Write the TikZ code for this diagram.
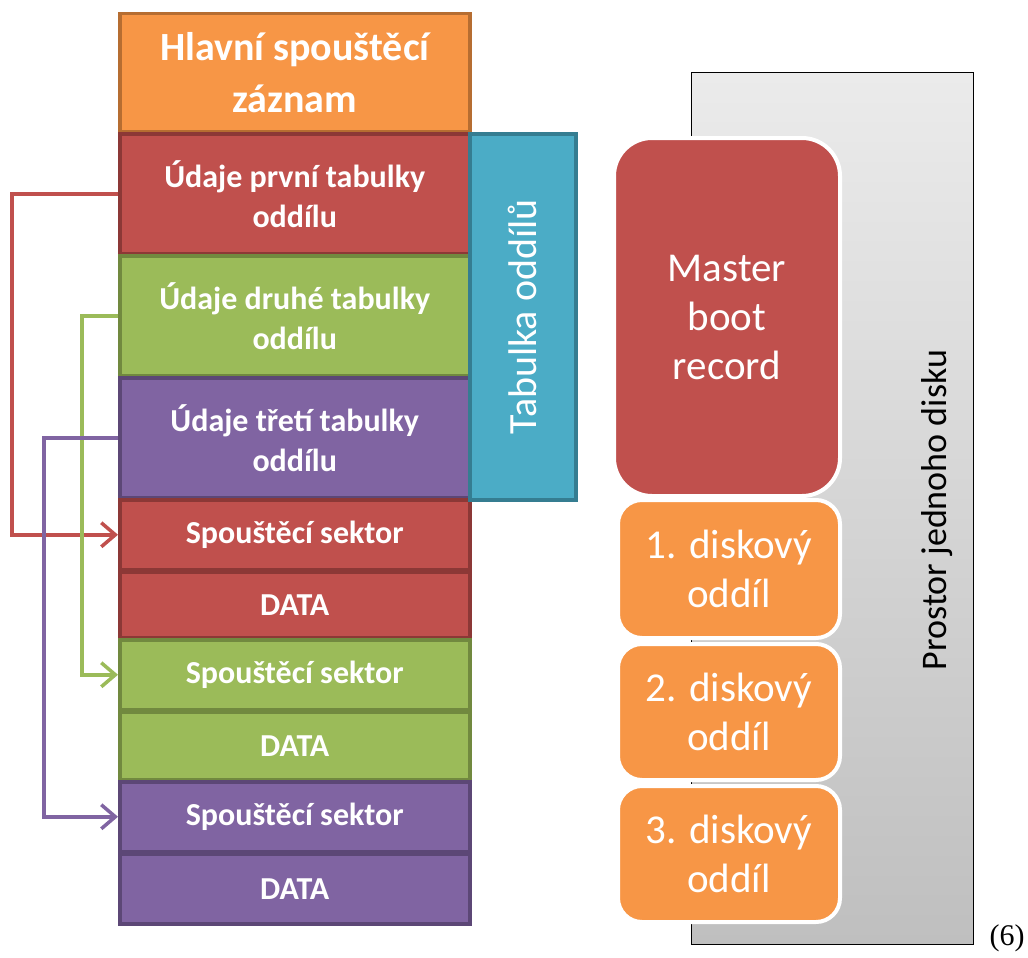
\documentclass[tikz,border=0pt]{standalone}
\usepackage{fontspec}
\setmainfont{Carlito}
\newfontfamily\capfont{Liberation Serif}
\usetikzlibrary{arrows.meta}
\definecolor{cOrange}{HTML}{F79646}
\definecolor{cOrangeD}{HTML}{B66D31}
\definecolor{cRed}{HTML}{C0504D}
\definecolor{cRedD}{HTML}{8C3836}
\definecolor{cGreen}{HTML}{9BBB59}
\definecolor{cGreenD}{HTML}{71893F}
\definecolor{cPurple}{HTML}{8064A2}
\definecolor{cPurpleD}{HTML}{5C4776}
\definecolor{cBlue}{HTML}{4BACC6}
\definecolor{cBlueD}{HTML}{357D91}
\definecolor{gTop}{HTML}{EBEBEB}
\definecolor{gBot}{HTML}{BFBFBF}
\tikzset{
  cell/.style={anchor=north west, inner sep=0pt, line width=3.5pt, minimum width=350pt,
    text=white, align=center, font=\bfseries\fontsize{32}{40}\selectfont},
  redcell/.style={cell, fill=cRed, draw=cRedD},
  greencell/.style={cell, fill=cGreen, draw=cGreenD},
  purplecell/.style={cell, fill=cPurple, draw=cPurpleD},
  part/.style={anchor=north west, inner sep=0pt, draw=white, line width=4pt,
    text=white, align=center, font=\fontsize{41}{49}\selectfont},
  link/.style={line width=3.5pt, -{Straight Barb[length=14pt,width=24pt]}},
}
\begin{document}
\begin{tikzpicture}[x=1pt,y=-1pt]
\useasboundingbox[fill=white] (0,0) rectangle (1028,958);

% left stack
\node[cell, fill=cOrange, draw=cOrangeD, minimum height=118pt,
  font=\bfseries\fontsize{40}{52}\selectfont] (mbr) at (118,12) {Hlavní spouštěcí\\záznam};
\node[redcell, minimum height=120pt] (t1) at (118,132) {Údaje první tabulky\\oddílu};
\node[greencell, minimum height=120pt] (t2) at (118,254) {Údaje druhé tabulky\\oddílu};
\node[purplecell, minimum height=120pt] (t3) at (118,376) {Údaje třetí tabulky\\oddílu};
\node[redcell, minimum height=70pt] (s1) at (118,498) {Spouštěcí sektor};
\node[redcell, minimum height=66pt] (d1) at (118,570) {DATA};
\node[greencell, minimum height=70pt] (s2) at (118,638) {Spouštěcí sektor};
\node[greencell, minimum height=68pt] (d2) at (118,710) {DATA};
\node[purplecell, minimum height=70pt] (s3) at (118,780) {Spouštěcí sektor};
\node[purplecell, minimum height=70pt] (d3) at (118,852) {DATA};

% partition table bracket
\node[anchor=north west, inner sep=0pt, line width=3.5pt, fill=cBlue, draw=cBlueD,
  minimum width=106pt, minimum height=366pt] (tab) at (468,132) {};
\node[rotate=90, text=white, font=\fontsize{40}{48}\selectfont] (tablabel) at (tab.center) {Tabulka oddílů};

% connectors
\draw[link, cRed] (t1.west) -- ++(-106,0) |- (s1.west);
\draw[link, cGreen] (t2.west) -- ++(-36,0) |- (s2.west);
\draw[link, cPurple] (t3.west) -- ++(-74,0) |- (s3.west);

% right side
\node[anchor=north west, inner sep=0pt, draw=black, line width=1pt,
  top color=gTop, bottom color=gBot, minimum width=282pt, minimum height=872pt] (disk) at (691,72) {};
\node[rotate=90, text=black, font=\fontsize{36}{44}\selectfont] (disklabel) at (937,510) {Prostor jednoho disku};

\node[part, fill=cRed, rounded corners=38pt, minimum width=226pt, minimum height=358pt]
  (pm) at (612,136) {Master\\boot\\record};
\node[part, fill=cOrange, rounded corners=24pt, minimum width=222pt, minimum height=138pt]
  (p1) at (616,498) {1. diskový\\oddíl};
\node[part, fill=cOrange, rounded corners=24pt, minimum width=222pt, minimum height=136pt]
  (p2) at (616,642) {2. diskový\\oddíl};
\node[part, fill=cOrange, rounded corners=24pt, minimum width=222pt, minimum height=136pt]
  (p3) at (616,784) {3. diskový\\oddíl};

\node[font=\capfont\fontsize{30}{36}\selectfont, text=black] (cap) at (1007,938) {(6)};
\end{tikzpicture}
\end{document}
